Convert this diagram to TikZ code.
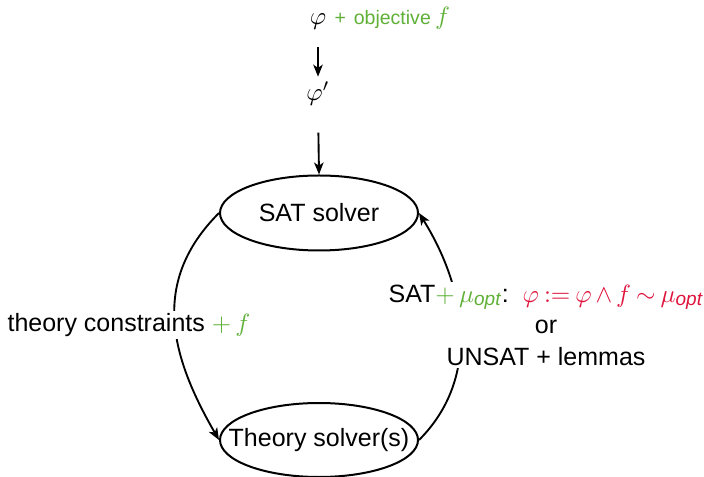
\documentclass[tikz,border=0pt]{standalone}
\usepackage{amsmath}
\usepackage{fontspec}
\setmainfont{Liberation Sans}
\usetikzlibrary{shapes.geometric,arrows.meta}
\definecolor{objgreen}{RGB}{96,176,56}
\definecolor{optred}{RGB}{222,20,60}
\newcommand{\optsub}{\text{\fontsize{7.6}{9}\selectfont\itshape opt}}
\tikzset{
  solver/.style={draw, ellipse, line width=0.8pt, minimum width=79.2pt, minimum height=30pt, inner sep=0pt},
  arr/.style={line width=0.75pt, -{Stealth[length=4.8pt,width=3.8pt,inset=1.3pt]}},
  lbl/.style={fill=white, inner sep=1pt, align=center, font=\fontsize{10}{12.6}\selectfont}
}
\begin{document}
\begin{tikzpicture}[x=0.4pt,y=-0.4pt]
\useasboundingbox (0,0) rectangle (704,477);
\node[inner sep=0pt, anchor=base] (phi) at (318,25) {$\varphi$};
\node[inner sep=0pt, anchor=base west, text=objgreen] (obj) at (334,25)
  {{\fontsize{7.8}{9}\selectfont +\hspace{3.2pt}objective}\,$f$};
\node[inner sep=0pt] (phip) at (318,94) {$\varphi'$};
\node[solver] (sat) at (319,213) {\makebox[0pt]{SAT solver}};
\node[solver, minimum height=29.6pt] (th) at (319,440) {\makebox[0pt]{Theory solver(s)}};
\draw[arr, shorten <=6.6pt, shorten >=2pt] (phi.south) -- (phip.north);
\draw[arr, shorten <=10.5pt] (phip.south) -- (sat.north);
\draw[arr] (sat.west) to[out=-135, in=120, looseness=1.1] (th.west);
\draw[arr] (th.east) to[out=45, in=-58, looseness=1.0] (sat.east);
\node[lbl] (lc) at (129,325) {theory constraints $\color{objgreen}+\,f$};
\node[lbl] (rc) at (546,325) {\thickmuskip=3.6mu\medmuskip=2.8mu
  SAT{\color{objgreen}$+\,\mu_{\optsub}$}:\ \ {\color{optred}$\varphi := \varphi \wedge f \sim \mu_{\optsub}$}\\ or\\ UNSAT + lemmas};
\end{tikzpicture}
\end{document}
